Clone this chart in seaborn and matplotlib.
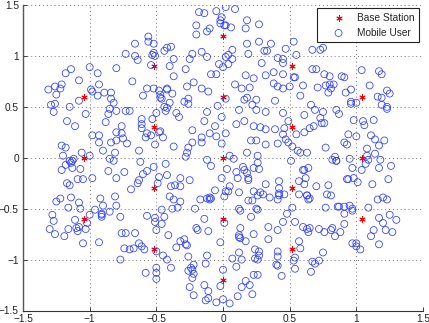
import matplotlib
matplotlib.use("Agg")
import matplotlib.pyplot as plt
import seaborn as sns
import pandas as pd

station_x = [-1.04,-0.52,-0.52,0,0,0,0.52,0.52,1.04,-1.04,1.04,-1.04,-0.52,-0.52,0,0,0.52,0.52,1.04]
station_y = [0.6,0.9,0.3,1.2,0.6,0,0.9,0.3,0.6,0,0,-0.6,-0.3,-0.9,-0.6,-1.2,-0.3,-0.9,-0.6]

xa = [-0.56,-0.56,-0.52,-0.66,-0.73,-0.66,-0.64,-0.53,-0.52,-0.51,-0.54,-1.00,-0.80,-1.14,-1.18,-0.94,-1.08,-0.93,-0.68,-1.21,-1.26,-1.22,-1.31,-1.25,-0.99,-0.98,-0.94,-0.89,-0.84,-0.84,-0.82,-0.57,-0.60,-0.52,-0.48,-0.47,-1.08]
ya = [1.19,1.14,1.12,1.12,1.02,1.00,0.96,1.01,1.03,1.00,0.91,0.89,0.88,0.87,0.83,0.83,0.76,0.72,0.75,0.72,0.70,0.68,0.67,0.62,0.67,0.65,0.61,0.64,0.64,0.58,0.54,0.68,0.61,0.68,0.66,0.59,0.56]

xb = [-0.18,-0.14,-0.05,0.02,0.09,-0.01,-0.02,-0.02,0.01,0.02,0.06,0.18,0.17,0.27,-0.20,-0.20,-0.10,-0.12,0.18,0.27,0.36,0.31,0.33,0.47,0.53,0.55,0.19,0.07,0.04,0.02,0.07,0.04,-0.03,0.00,-0.16,-0.12,-0.23,-0.25,-0.37,-0.28,-0.40,-0.37,-0.39,-0.42,-0.44,0.29,0.41,0.45,0.45,0.38,0.32,0.45,0.17,0.23,-0.09,-0.05,0.53,0.54,0.60,0.58,0.50,0.45,0.41,0.38,0.39,0.25,0.22,0.18,0.16,0.20,0.14,0.09,0.02,-0.11,-0.16,-0.22,-0.27,-0.38,-0.42,-0.42,-0.47,-0.46,-0.40,-0.26,-0.29,-0.26,-0.04]
yb = [1.43,1.42,1.44,1.48,1.46,1.38,1.35,1.32,1.30,1.30,1.28,1.35,1.27,1.31,1.30,1.21,1.27,1.24,1.12,1.14,1.12,1.05,1.05,1.07,1.14,1.01,1.02,1.06,1.01,0.99,0.97,0.92,0.92,0.89,1.04,0.99,1.02,0.97,0.97,0.87,0.90,0.80,1.09,1.08,1.05,0.93,0.98,0.97,0.93,0.84,0.81,0.82,0.81,0.78,0.82,0.82,0.79,0.79,0.71,0.61,0.70,0.68,0.70,0.73,0.56,0.57,0.52,0.59,0.57,0.69,0.68,0.72,0.58,0.65,0.68,0.74,0.70,0.63,0.68,0.67,0.62,0.58,0.54,0.58,0.55,0.53,0.51]

xc = [0.67,0.73,0.75,0.67,0.70,0.76,0.80,0.89,0.91,1.04,1.17,1.19,1.10,1.23,1.25,1.16,1.19,0.96,0.92,0.83,0.77,0.80,0.81,0.71,0.79,0.96,0.96,1.00,1.19,1.23,1.23,0.66]
yc = [1.06,1.06,1.08,0.87,0.87,0.82,0.80,0.80,0.79,0.86,0.85,0.82,0.71,0.66,0.63,0.60,0.59,0.67,0.64,0.72,0.71,0.72,0.68,0.69,0.64,0.55,0.53,0.54,0.52,0.50,0.48,0.52]

xd = [-1.29,-1.26,-1.15,-1.27,-1.17,-1.11,-1.03,-0.85,-0.86,-0.80,-0.73,-0.70,-0.61,-0.61,-0.61,-0.53,-0.50,-0.88,-0.76,-0.80,-0.76,-0.75,-0.72,-0.80,-0.84,-0.98,-0.93,-0.93,-0.90,-0.81,-0.85,-0.82,-1.00,-1.06,-1.21,-1.18,-1.20,-1.12,-1.13,-1.15,-1.14,-1.18,-1.13,-1.21,-1.07,-1.09,-1.05,-0.98,-1.17,-1.15,-0.86,-0.80,-0.74,-0.69,-0.64,-0.63,-0.60,-0.57,-0.52,-0.48,-0.49,-0.63,-0.62,-0.58,-0.57,-0.54,-0.51,-0.48,-1.25,-1.22,-1.14,-1.08,-0.92,-0.81]
yd = [0.52,0.53,0.50,0.45,0.36,0.31,0.43,0.48,0.43,0.46,0.46,0.46,0.38,0.33,0.29,0.38,0.44,0.35,0.31,0.25,0.24,0.19,0.14,0.17,0.15,0.22,0.22,0.15,0.07,0.05,-0.01,-0.03,0.02,0.05,0.12,0.10,0.02,-0.01,-0.03,-0.03,-0.05,-0.07,-0.10,-0.12,-0.11,-0.21,-0.21,-0.20,-0.25,-0.27,-0.13,-0.20,-0.14,-0.31,-0.25,-0.22,-0.16,-0.13,-0.09,-0.19,-0.25,0.07,-0.04,0.20,0.24,0.22,0.13,0.25,-0.43,-0.40,-0.39,-0.44,-0.40,-0.38]

xe = [-0.44,-0.42,-0.43,-0.35,-0.33,-0.12,-0.14,-0.01,0.12,0.25,0.32,0.45,0.61,0.49,0.16,0.10,0.23,0.28,0.32,0.39,0.46,0.45,0.47,0.49,0.52,0.56,0.58,0.63,0.55,0.61,0.51,0.41,0.32,0.25,0.21,0.18,0.26,0.26,0.27,0.23,0.15,0.16,0.18,0.10,0.11,0.19,0.19,0.03,-0.01,0.08,0.05,-0.09,-0.12,0.02,-0.05,-0.06,-0.10,-0.16,-0.16,-0.01,-0.23,-0.23,-0.26,-0.27,-0.28,-0.37,-0.45,-0.47,-0.43,-0.42,-0.32,-0.25,-0.32,-0.39,-0.36,-0.40,-0.37,-0.32,-0.34,-0.38,-0.46,-0.21,-0.17,-0.12,-0.10,-0.10,-0.09,-0.06,0.01,0.02,0.04,0.05,0.12,0.19,0.22,0.23,0.26,0.28,0.30,0.32,0.35,0.42,0.42,0.42,0.42,0.41,0.46,0.52,0.57,0.62,0.60,0.61,0.61,0.57,0.63,0.64,0.12,0.25]
ye = [0.50,0.49,0.46,0.44,0.40,0.45,0.36,0.40,0.47,0.47,0.45,0.44,0.42,0.36,0.36,0.33,0.31,0.30,0.28,0.28,0.29,0.23,0.18,0.15,0.11,0.07,0.05,0.05,0.23,0.25,-0.03,0.14,0.13,0.17,0.17,0.05,0.02,-0.05,-0.11,-0.10,-0.09,-0.12,-0.15,-0.14,-0.20,-0.20,-0.22,-0.11,-0.20,-0.01,0.02,-0.08,-0.02,0.24,0.21,0.31,0.24,0.20,0.15,0.14,0.27,0.15,0.10,0.05,0.01,0.11,0.20,0.26,-0.06,-0.17,-0.20,-0.22,-0.28,-0.28,-0.27,-0.38,-0.41,-0.43,-0.49,-0.50,-0.51,-0.50,-0.41,-0.40,-0.39,-0.41,-0.40,-0.32,-0.38,-0.33,-0.33,-0.28,-0.34,-0.42,-0.42,-0.33,-0.37,-0.34,-0.36,-0.26,-0.39,-0.23,-0.30,-0.35,-0.37,-0.41,-0.36,-0.49,-0.23,-0.20,-0.12,-0.12,-0.26,-0.36,-0.37,-0.41,-0.50,-0.50]

xf = [0.69,0.75,0.85,0.87,0.73,0.74,0.76,0.68,0.65,0.98,1.05,1.06,1.13,0.94,1.00,1.11,1.14,1.21,1.17,0.91,0.93,0.77,1.08,1.14,1.08,1.09,1.07,1.18,1.17,1.26,1.04,0.97,0.95,0.84,0.82,0.85,0.85,0.64,0.70,0.79,0.78,0.81,0.63,0.65,0.93,0.94,0.98,1.01,1.12,1.24,1.16,1.20,1.23,0.77,0.86,0.87,0.91,0.95,0.97,1.09]
yf = [0.47,0.45,0.47,0.43,0.39,0.34,0.34,0.31,0.29,0.37,0.36,0.32,0.37,0.23,0.21,0.22,0.18,0.17,0.12,0.15,0.13,0.10,0.09,0.04,0.02,-0.02,-0.06,-0.02,-0.10,-0.08,-0.12,-0.10,-0.01,0.01,-0.02,-0.03,-0.03,-0.10,-0.28,-0.27,-0.36,-0.37,-0.37,-0.40,-0.21,-0.21,-0.20,-0.24,-0.26,-0.21,-0.41,-0.39,-0.41,-0.49,-0.48,-0.48,-0.48,-0.47,-0.50,-0.49]

xg = [-1.16,-1.07,-1.28,-1.27,-1.11,-1.00,-0.96,-0.90,-0.80,-0.91,-0.91,-0.91,-0.85,-0.77,-1.02,-1.30,-1.26,-1.19,-1.16,-1.10,-1.08,-1.09,-1.03,-1.05,-0.93,-0.76,-0.73,-0.66,-0.74,-0.70,-0.67,-0.63,-0.61,-0.59,-0.77,-0.57,-0.51,-0.51,-0.50,-0.50,-0.58,-0.50,-0.50,-0.50]
yg = [-0.49,-0.50,-0.56,-0.62,-0.61,-0.56,-0.51,-0.47,-0.47,-0.55,-0.56,-0.58,-0.53,-0.58,-0.64,-0.70,-0.75,-0.77,-0.70,-0.69,-0.68,-0.72,-0.70,-0.84,-0.83,-0.74,-0.74,-0.74,-0.89,-0.90,-0.89,-0.84,-0.87,-0.90,-1.00,-0.57,-0.59,-0.63,-0.71,-0.92,-1.13,-1.08,-1.13,-1.19]

xh = [-0.44,-0.46,-0.14,-0.20,-0.19,-0.11,-0.41,-0.32,-0.29,-0.35,-0.28,-0.27,-0.45,-0.42,-0.39,-0.26,-0.12,-0.13,-0.22,-0.24,-0.26,-0.23,-0.22,-0.23,-0.25,-0.22,-0.14,-0.11,-0.11,-0.13,-0.05,0.00,0.05,0.11,0.22,0.14,0.17,0.20,-0.02,0.00,0.10,0.07,0.12,0.14,-0.02,0.01,0.13,0.12,0.12,0.13,0.17,0.23,0.21,0.34,0.34,0.41,0.45,0.48,0.54,0.60,0.63,0.57,0.58,0.24,0.27,0.27,0.24,0.26,0.41,0.41,0.41,0.40,0.23,0.26,0.44,0.54,0.53,0.54,0.13,0.26]
yh = [-0.58,-0.65,-0.60,-0.69,-0.71,-0.72,-0.76,-0.82,-0.80,-0.88,-0.85,-0.86,-0.96,-1.00,-1.08,-0.97,-0.96,-1.04,-1.05,-1.08,-1.11,-1.10,-1.14,-1.18,-1.27,-1.35,-1.25,-1.31,-1.38,-1.40,-1.42,-1.39,-1.43,-1.36,-1.34,-1.27,-1.21,-1.25,-1.26,-1.10,-1.07,-0.99,-0.93,-1.00,-0.83,-0.64,-0.69,-0.76,-0.78,-0.79,-0.82,-0.75,-0.58,-0.68,-0.80,-0.71,-0.63,-0.55,-0.63,-0.68,-0.70,-0.82,-0.89,-0.90,-0.92,-0.96,-0.99,-1.00,-0.92,-0.97,-1.06,-1.05,-1.15,-1.15,-1.16,-0.98,-1.01,-1.09,-0.52,-0.51]

xi = [0.91,0.97,1.17,1.25,1.30,1.20,1.22,1.27,1.13,1.11,1.17,0.91,0.88,0.84,0.82,0.81,0.76,0.72,0.65,0.64,0.97,1.00,1.00,1.03,0.75,0.72,0.69,0.67,0.66]
yi = [-0.55,-0.52,-0.59,-0.56,-0.61,-0.64,-0.71,-0.73,-0.71,-0.77,-0.85,-0.65,-0.73,-0.77,-0.69,-0.71,-0.73,-0.70,-0.69,-0.73,-0.84,-0.84,-0.87,-0.90,-0.93,-1.01,-1.04,-1.02,-1.12]

mobile_x = xa + xb + xc + xd + xe + xf + xg + xh + xi
mobile_y = ya + yb + yc + yd + ye + yf + yg + yh + yi
stations = pd.DataFrame({"x": station_x, "y": station_y})
mobiles = pd.DataFrame({"x": mobile_x, "y": mobile_y})
tick_values = [-1.5, -1, -0.5, 0, 0.5, 1, 1.5]
tick_labels = ["\u22121.5", "\u22121", "\u22120.5", "0", "0.5", "1", "1.5"]

sns.set_theme(style="white")
plt.rcParams['font.family'] = ['Liberation Sans', 'DejaVu Sans']
fig = plt.figure(figsize=(4.29, 3.23), dpi=100)
ax = fig.add_axes([23/429, 1-310.5/323, 400/429, 305.5/323])

sns.scatterplot(data=stations, x="x", y="y", ax=ax, marker=(6, 2, 0), s=16,
                color="#ff0000", linewidth=0.7, label="Base Station", zorder=3)
sns.scatterplot(data=mobiles, x="x", y="y", ax=ax, marker="o", s=25,
                facecolors="none", edgecolor="#2a3cff", linewidth=0.55,
                label="Mobile User", zorder=4)

ax.set_xlim(-1.5, 1.5)
ax.set_ylim(-1.5, 1.5)
ax.set_xticks(tick_values)
ax.set_yticks(tick_values)
ax.set_xticklabels(tick_labels)
ax.set_yticklabels(tick_labels)
ax.set_xlabel("")
ax.set_ylabel("")
ax.grid(True, linestyle=(0, (1, 3)), color="#777777", linewidth=0.7)
ax.set_axisbelow(True)
ax.tick_params(direction="in", length=3, width=0.6, labelsize=7.3, colors="#222222", left=True, bottom=True)
ax.tick_params(axis="x", pad=2.2)
ax.tick_params(axis="y", pad=3)
for side in ("top", "right"):
    ax.spines[side].set_visible(False)
ax.spines["left"].set_color("#555555")
ax.spines["left"].set_linewidth(1.0)
ax.spines["bottom"].set_color("#333333")
ax.spines["bottom"].set_linewidth(0.8)

leg = ax.legend(loc="upper right", bbox_to_anchor=(396/400, 302.5/305.5), borderaxespad=0,
                fancybox=False, framealpha=1, edgecolor="#222222", fontsize=7.3,
                labelspacing=0.5, handlelength=3.3, handletextpad=0.15, borderpad=0.45)
leg.get_frame().set_linewidth(0.8)
fig.savefig("out.png", dpi=100)
